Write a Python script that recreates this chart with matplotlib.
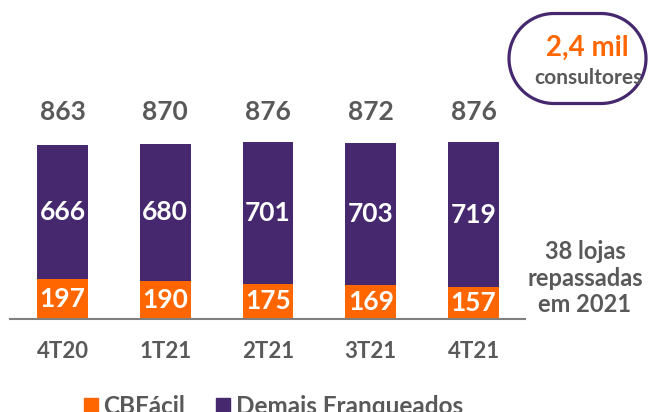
import matplotlib.pyplot as plt
from matplotlib.patches import Polygon
from matplotlib.lines import Line2D
import numpy as np

plt.rcParams['font.family'] = ['Lato', 'DejaVu Sans']
plt.rcParams['font.weight'] = 'bold'

# data
quarters = ["4T20", "1T21", "2T21", "3T21", "4T21"]
cbfacil = np.array([197, 190, 175, 169, 157])
demais = np.array([666, 680, 701, 703, 719])
totals = cbfacil + demais

orange = "#FF6600"
purple = "#45286E"
grey = "#595959"

W, H = 649, 412
fig = plt.figure(figsize=(W / 100, H / 100), dpi=100)

# axes: baseline at y=319 px, x from 10 to 525 px
ax = fig.add_axes([10 / W, (H - 319) / H, 515 / W, 300 / H])
x = np.arange(len(quarters))
ax.set_xlim(-0.511, 4.501)
ax.set_ylim(0, 300 / 0.2016)

ax.bar(x, cbfacil, width=0.496, color=orange)
ax.bar(x, demais, width=0.496, bottom=cbfacil, color=purple)

for i in range(len(quarters)):
    ax.text(x[i], cbfacil[i] / 2, str(cbfacil[i]), ha='center', va='center',
            color='white', fontsize=19, fontweight='bold')
    ax.text(x[i], cbfacil[i] + demais[i] / 2, str(demais[i]), ha='center', va='center',
            color='white', fontsize=19, fontweight='bold')
    ax.text(x[i], 1027, str(totals[i]), ha='center', va='center',
            color=grey, fontsize=19, fontweight='bold')

for s in ['top', 'right', 'left']:
    ax.spines[s].set_visible(False)
ax.spines['bottom'].set_color('#7f7f7f')
ax.spines['bottom'].set_linewidth(1.5)
ax.set_yticks([])
ax.set_xticks(x)
ax.set_xticklabels(quarters, color=grey, fontsize=16, fontweight='bold')
ax.tick_params(axis='x', length=0, pad=16)

# overlay in pixel coords (y measured from the bottom) for the notes on the right
ov = fig.add_axes([0, 0, 1, 1], facecolor='none')
ov.set_xlim(0, W)
ov.set_ylim(0, H)
ov.axis('off')

ov.text(585, H - 278, "38 lojas\nrepassadas\nem 2021", ha='center', va='center',
        color=grey, fontsize=17, fontweight='bold', linespacing=1.2)

# stadium-shaped outline
r = 45
cy = H - 58.5
left_c, right_c = 509 + r, 646 - r
t1 = np.linspace(np.pi / 2, 3 * np.pi / 2, 60)
t2 = np.linspace(-np.pi / 2, np.pi / 2, 60)
pts = np.vstack([np.column_stack([left_c + r * np.cos(t1), cy + r * np.sin(t1)]),
                 np.column_stack([right_c + r * np.cos(t2), cy + r * np.sin(t2)])])
ov.add_patch(Polygon(pts, closed=True, facecolor='white', edgecolor=purple, linewidth=2.3))
ov.text(587, H - 48, "2,4 mil", ha='center', va='center',
        color=orange, fontsize=20, fontweight='bold')
ov.text(588, H - 78, "consultores", ha='center', va='center',
        color=grey, fontsize=15, fontweight='bold')

handles = [Line2D([], [], marker='s', linestyle='', markersize=10, color=orange),
           Line2D([], [], marker='s', linestyle='', markersize=10, color=purple)]
leg = fig.legend(handles, ["CBFácil", "Demais Franqueados"], loc='center',
                 bbox_to_anchor=(273 / W, 1 - 406 / H), ncol=2, frameon=False,
                 handletextpad=0.2, columnspacing=1.3, handlelength=0.6,
                 borderpad=0, prop={'size': 17.5, 'weight': 'bold'})
for t in leg.get_texts():
    t.set_color(grey)

fig.savefig("out.png", dpi=100)
